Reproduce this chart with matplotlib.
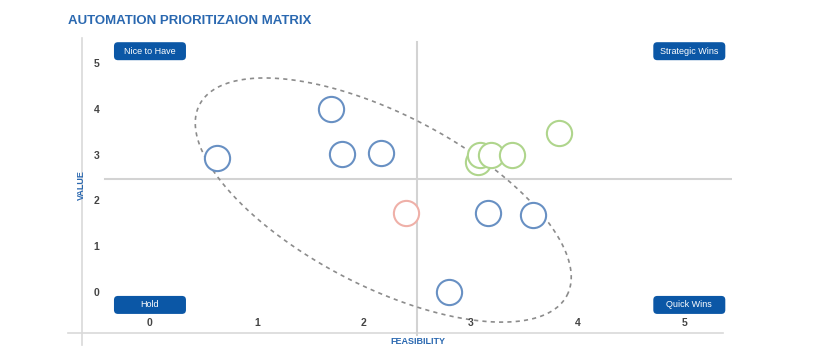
import numpy as np
import matplotlib
matplotlib.use("Agg")
import matplotlib.pyplot as plt
from matplotlib.patches import FancyBboxPatch

# data
feasibility = [0.63, 1.69, 1.79, 2.16, 2.39, 3.16, 3.58, 2.79, 3.07, 3.08, 3.19, 3.38, 3.82]
value = [2.95, 4.02, 3.03, 3.06, 1.75, 1.75, 1.70, 0.02, 2.86, 3.01, 3.01, 3.01, 3.49]
group = ['blue', 'blue', 'blue', 'blue', 'pink', 'blue', 'blue', 'blue',
         'green', 'green', 'green', 'green', 'green']
ticks = [0, 1, 2, 3, 4, 5]
quadrants = ['Nice to Have', 'Strategic Wins', 'Hold', 'Quick Wins']
quad_pos = [(0, 5.28), (5.04, 5.28), (0, -0.26), (5.04, -0.26)]

edge = {'blue': '#6890c3', 'green': '#afd58c', 'pink': '#efb0a8'}
box_blue = '#0b57a6'
title_blue = '#2a68b0'

plt.rcParams['font.family'] = ['Liberation Sans', 'DejaVu Sans']

fig = plt.figure(figsize=(8.3, 3.6), dpi=100)
W, H = 830, 360
ax = fig.add_axes([68 / W, (H - 333) / H, 664 / W, 295 / H])
ax.set_xlim(-0.766, 5.439)
ax.set_ylim(-0.873, 5.568)
ax.axis('off')

# frame lines and quadrant dividers
ax.plot([0.021, 0.021], [-0.04, 1.0], color='#d9d9d9', lw=1.2, transform=ax.transAxes, clip_on=False)
ax.plot([0, 0.986], [0, 0], color='#d9d9d9', lw=1.2, transform=ax.transAxes, clip_on=False)
ax.axhline(2.5, xmin=0.056, xmax=1.0, color='#d3d3d3', lw=1.5)
ax.axvline(2.5, ymin=-0.007, ymax=0.986, color='#d3d3d3', lw=1.5, clip_on=False)

# tick labels drawn inside the plot area
for t in ticks:
    ax.text(t, -0.66, str(t), ha='center', va='center', fontsize=7.5, color='#444444', fontweight='bold')
    ax.text(-0.5, t, str(t), ha='center', va='center', fontsize=7.5, color='#444444', fontweight='bold')

ax.text(-0.64, 2.35, 'VALUE', rotation=90, ha='center', va='center', fontsize=6.5,
        color=title_blue, fontweight='bold')
ax.text(2.5, -1.05, 'FEASIBILITY', ha='center', va='center', fontsize=6.5,
        color=title_blue, fontweight='bold', clip_on=False)

# dashed ellipse, defined in pixels around a data centre
fig.canvas.draw()
sx = ax.transData.transform((1, 0))[0] - ax.transData.transform((0, 0))[0]
sy = ax.transData.transform((0, 1))[1] - ax.transData.transform((0, 0))[1]
cx, cy = 2.18, 2.03
a_px, b_px, phi = 207, 86, np.deg2rad(-27.4)
t = np.linspace(0, 2 * np.pi, 400)
ex = cx + (a_px * np.cos(t) * np.cos(phi) - b_px * np.sin(t) * np.sin(phi)) / sx
ey = cy + (a_px * np.cos(t) * np.sin(phi) + b_px * np.sin(t) * np.cos(phi)) / sy
ax.plot(ex, ey, color='#8c8c8c', lw=1.2, ls=(0, (2.5, 2.5)))

# bubbles
for x, y, g in zip(feasibility, value, group):
    ax.scatter(x, y, s=330, facecolors='white', edgecolors=edge[g], linewidths=1.5, zorder=3)

# quadrant labels
bw, bh = 72 / 664, 18 / 295
for label, (qx, qy) in zip(quadrants, quad_pos):
    fx, fy = ax.transAxes.inverted().transform(ax.transData.transform((qx, qy)))
    box = FancyBboxPatch((fx - bw / 2, fy - bh / 2), bw, bh,
                         boxstyle='round,pad=0,rounding_size=0.006',
                         mutation_aspect=664 / 295, transform=ax.transAxes,
                         facecolor=box_blue, edgecolor='none', clip_on=False, zorder=4)
    ax.add_patch(box)
    ax.text(fx, fy, label, ha='center', va='center', fontsize=6.5, color='white',
            transform=ax.transAxes, zorder=5)

fig.text(68 / W, 1 - 21 / H, 'AUTOMATION PRIORITIZAION MATRIX', ha='left', va='center',
         fontsize=9.5, fontweight='bold', color=title_blue)

fig.savefig('out.png', dpi=100)
